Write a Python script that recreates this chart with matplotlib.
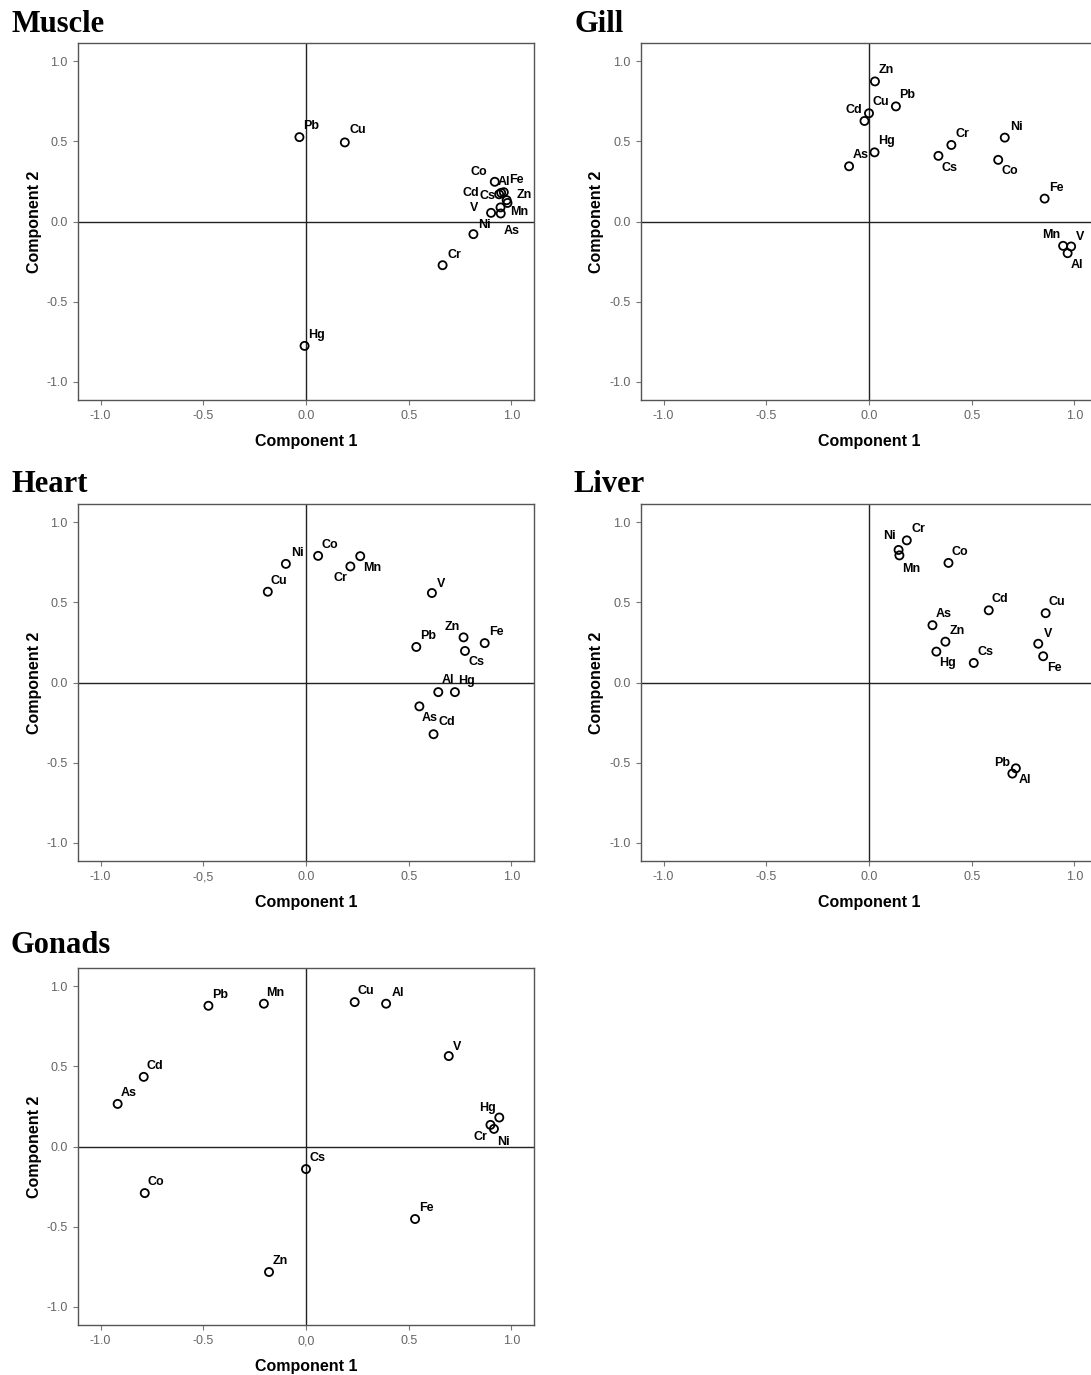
import matplotlib
matplotlib.use("Agg")
import matplotlib.pyplot as plt

plt.rcParams["font.family"] = ["Liberation Sans", "DejaVu Sans"]

# Component loadings
muscle_el = ["Pb", "Cu", "Hg", "Cr", "Ni", "Co", "Al", "Fe", "Cs", "Cd", "Zn", "Mn", "V", "As"]
muscle_c1 = [-0.032, 0.189, -0.007, 0.665, 0.815, 0.919, 0.950, 0.963, 0.940, 0.947, 0.977, 0.981, 0.901, 0.948]
muscle_c2 = [0.527, 0.494, -0.777, -0.273, -0.079, 0.248, 0.179, 0.183, 0.170, 0.088, 0.133, 0.116, 0.054, 0.050]

gill_el = ["Zn", "Pb", "Cu", "Cd", "Hg", "As", "Cr", "Cs", "Ni", "Co", "Fe", "Mn", "V", "Al"]
gill_c1 = [0.029, 0.131, 0.000, -0.022, 0.027, -0.097, 0.401, 0.338, 0.661, 0.629, 0.855, 0.945, 0.984, 0.967]
gill_c2 = [0.875, 0.719, 0.676, 0.628, 0.432, 0.345, 0.478, 0.410, 0.524, 0.385, 0.143, -0.152, -0.156, -0.198]

heart_el = ["Ni", "Cu", "Co", "Cr", "Mn", "V", "Pb", "Zn", "Fe", "Cs", "Al", "Hg", "As", "Cd"]
heart_c1 = [-0.098, -0.186, 0.059, 0.216, 0.264, 0.613, 0.537, 0.767, 0.870, 0.774, 0.644, 0.725, 0.552, 0.621]
heart_c2 = [0.741, 0.567, 0.791, 0.725, 0.789, 0.559, 0.222, 0.282, 0.246, 0.197, -0.060, -0.060, -0.149, -0.323]

liver_el = ["Ni", "Mn", "Cr", "Co", "Cd", "Cu", "As", "Zn", "Hg", "Cs", "V", "Fe", "Pb", "Al"]
liver_c1 = [0.144, 0.148, 0.184, 0.387, 0.583, 0.860, 0.309, 0.372, 0.328, 0.510, 0.824, 0.848, 0.715, 0.698]
liver_c2 = [0.828, 0.794, 0.888, 0.747, 0.451, 0.433, 0.358, 0.255, 0.193, 0.122, 0.242, 0.164, -0.536, -0.569]

gonads_el = ["Pb", "Mn", "Cu", "Al", "V", "Cd", "As", "Hg", "Cr", "Ni", "Cs", "Co", "Fe", "Zn"]
gonads_c1 = [-0.475, -0.205, 0.237, 0.390, 0.695, -0.790, -0.917, 0.941, 0.898, 0.915, 0.000, -0.785, 0.531, -0.180]
gonads_c2 = [0.879, 0.892, 0.902, 0.892, 0.565, 0.435, 0.266, 0.181, 0.135, 0.110, -0.141, -0.291, -0.453, -0.784]

ticks = [-1.0, -0.5, 0.0, 0.5, 1.0]
tick_labels = ["-1.0", "-0.5", "0.0", "0.5", "1.0"]
heart_xlabels = ["-1.0", "-0,5", "0.0", "0.5", "1.0"]
gonads_xlabels = ["-1.0", "-0.5", "0,0", "0.5", "1.0"]

# label offsets (px, right / up) where they differ from the default upper-right spot
DEFAULT_OFF = (11.5, 11)
muscle_off = {"Pb": (11.5, 11), "Cu": (12.5, 12), "Hg": (11.8, 11.3), "Cr": (11.8, 10.7),
              "Ni": (11.5, 9), "Co": (-15.6, 10), "Al": (3, 11), "Fe": (13, 12.7),
              "Cs": (-12, -1.5), "Cd": (-30, 14), "Zn": (17.4, 5.7), "Mn": (11.7, -9),
              "V": (-17, 4.4), "As": (10.9, -17.7)}
gill_off = {"Cd": (-10.4, 11), "Cs": (11.1, -11.7), "Co": (11.8, -11.3), "Mn": (-12.2, 10.7),
            "V": (9, 9.3), "Al": (9, -11.7)}
heart_off = {"Cr": (-10.1, -11.7), "Mn": (12.2, -12), "V": (8.7, 8.7), "Zn": (-10.8, 10.7),
             "Cs": (11.8, -11.3), "Al": (10.1, 11.7), "As": (10.1, -12), "Cd": (12.9, 12)}
liver_off = {"Ni": (-8.7, 14), "Mn": (12.2, -13.7), "Hg": (11.5, -11.7), "V": (9.4, 9.7),
             "Fe": (10.8, -12), "Pb": (-13.9, 5.3), "Al": (12.2, -6.7)}
gonads_off = {"Hg": (-11.8, 10), "Cr": (-10.1, -12), "Ni": (9.4, -12.7), "V": (8.7, 9)}

W, H = 1091, 1375
fig = plt.figure(figsize=(W / 100, H / 100), dpi=100)

# (title, elements, c1, c2, offsets, xticklabels, axes left px, axes top px, title x px, title baseline px)
panels = [
    ("Muscle", muscle_el, muscle_c1, muscle_c2, muscle_off, tick_labels, 78, 43, 11, 32),
    ("Gill", gill_el, gill_c1, gill_c2, gill_off, tick_labels, 641, 43, 574, 32),
    ("Heart", heart_el, heart_c1, heart_c2, heart_off, heart_xlabels, 78, 504, 11, 492),
    ("Liver", liver_el, liver_c1, liver_c2, liver_off, tick_labels, 641, 504, 574, 492),
    ("Gonads", gonads_el, gonads_c1, gonads_c2, gonads_off, gonads_xlabels, 78, 968, 11, 953),
]

AW, AH = 456, 357
for title, el, c1, c2, offs, xlabs, left, top, tx, ty in panels:
    ax = fig.add_axes([left / W, 1 - (top + AH) / H, AW / W, AH / H])
    ax.set_xlim(-1.11, 1.11)
    ax.set_ylim(-1.115, 1.115)
    ax.axhline(0, color="#222222", lw=1.0, zorder=1)
    ax.axvline(0, color="#222222", lw=1.0, zorder=1)
    ax.scatter(c1, c2, s=34, facecolors="none", edgecolors="black", linewidths=1.3, zorder=3)
    for name, x, y in zip(el, c1, c2):
        dx, dy = offs.get(name, DEFAULT_OFF)
        ax.annotate(name, (x, y), xytext=(dx * 0.72, dy * 0.72), textcoords="offset points",
                    ha="center", va="center", fontsize=9, fontweight="bold", zorder=4)

    ax.set_xticks(ticks)
    ax.set_xticklabels(xlabs)
    ax.set_yticks(ticks)
    ax.set_yticklabels(tick_labels)
    ax.tick_params(direction="out", length=3.5, width=0.8, color="#777777",
                   labelcolor="#666666", labelsize=9, pad=4)
    for sp in ax.spines.values():
        sp.set_color("#555555")
        sp.set_linewidth(1.0)

    ax.set_xlabel("Component 1", fontsize=11.5, fontweight="bold", va="center")
    ax.xaxis.set_label_coords(0.5, -41.5 / AH)
    ax.set_ylabel("Component 2", fontsize=11.5, fontweight="bold", va="center")
    ax.yaxis.set_label_coords(-44 / AW, 0.5)

    fig.text(tx / W, 1 - ty / H, title, family="Liberation Serif", fontweight="bold",
             fontsize=22, ha="left", va="baseline")

fig.savefig("out.png", dpi=100)
